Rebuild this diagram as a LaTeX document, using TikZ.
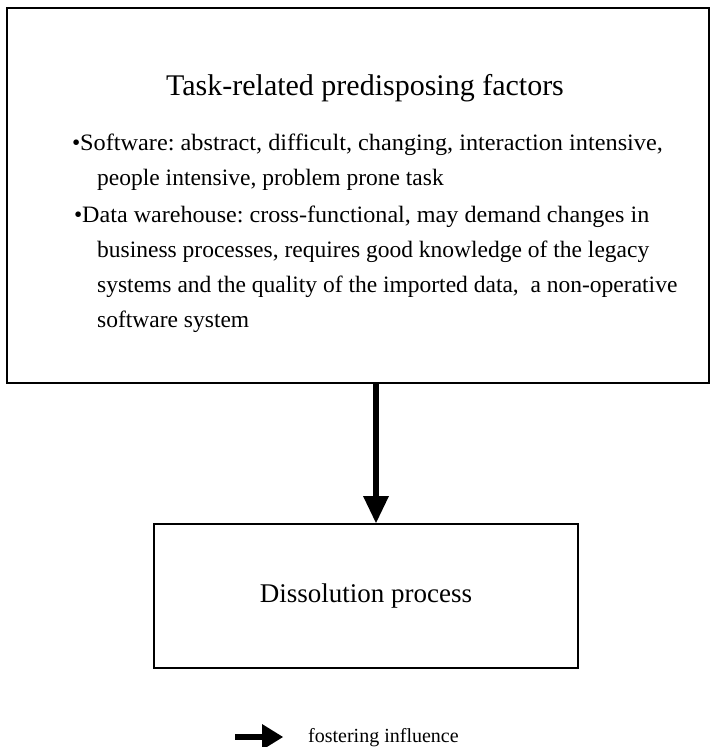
\documentclass[tikz,border=0pt]{standalone}
\usepackage{fontspec}
\setmainfont{Liberation Serif}
\usetikzlibrary{arrows.meta}
\frenchspacing

\tikzset{
  framebox/.style={draw=black, line width=2pt, fill=white, inner sep=0pt},
  titletext/.style={anchor=base, inner sep=0pt, font=\fontsize{30}{36}\selectfont},
  bodyline/.style={anchor=base west, inner sep=0pt, font=\fontsize{23.5}{28}\selectfont},
  boxtext/.style={font=\fontsize{27}{32}\selectfont},
  legendtext/.style={anchor=base west, inner sep=0pt, font=\fontsize{20}{24}\selectfont},
  fosterarrow/.style={draw=black, line width=6pt,
    -{Triangle[length=27pt, width=26pt, line width=0pt]}},
  legendarrow/.style={draw=black, line width=6pt,
    -{Triangle[length=21pt, width=26pt, line width=0pt]}}
}

\begin{document}
\begin{tikzpicture}[x=1pt, y=-1pt]
  \useasboundingbox (0,0) rectangle (711,747);

  % upper box: task-related predisposing factors
  \node[framebox, minimum width=702pt, minimum height=375pt] (factors) at (358,195.5) {};
  \node[titletext] (title) at (365,95) {Task-related predisposing factors};

  % first line of each bullet is set slightly wider
  \node[bodyline] (b1) at (72,150) {\textbullet};
  \node[bodyline] (l1) at (80,150) {\scalebox{1.033}[1]{Software: abstract, difficult, changing, interaction intensive,}};
  \node[bodyline] (l2) at (97,185) {people intensive, problem prone task};
  \node[bodyline] (b2) at (74,222) {\textbullet};
  \node[bodyline] (l3) at (82,222) {\scalebox{1.026}[1]{Data warehouse: cross-functional, may demand changes in}};
  \node[bodyline] (l4) at (97,257) {business processes, requires good knowledge of the legacy};
  \node[bodyline] (l5) at (97,292) {systems and the quality of the imported data,\ \ a non-operative};
  \node[bodyline] (l6) at (97,327) {software system};

  % lower box
  \node[framebox, boxtext, minimum width=424pt, minimum height=144pt] (dissolution) at (366,596) {Dissolution process};

  % fostering influence between the two boxes
  \coordinate (arrowx) at (376,0);
  \draw[fosterarrow] (factors.south -| arrowx) -- (dissolution.north -| arrowx);

  % legend
  \coordinate (legstart) at (235,737);
  \coordinate (legend) at (283,737);
  \draw[legendarrow] (legstart) -- (legend);
  \node[legendtext] (legendlabel) at (308,742) {fostering influence};
\end{tikzpicture}
\end{document}
